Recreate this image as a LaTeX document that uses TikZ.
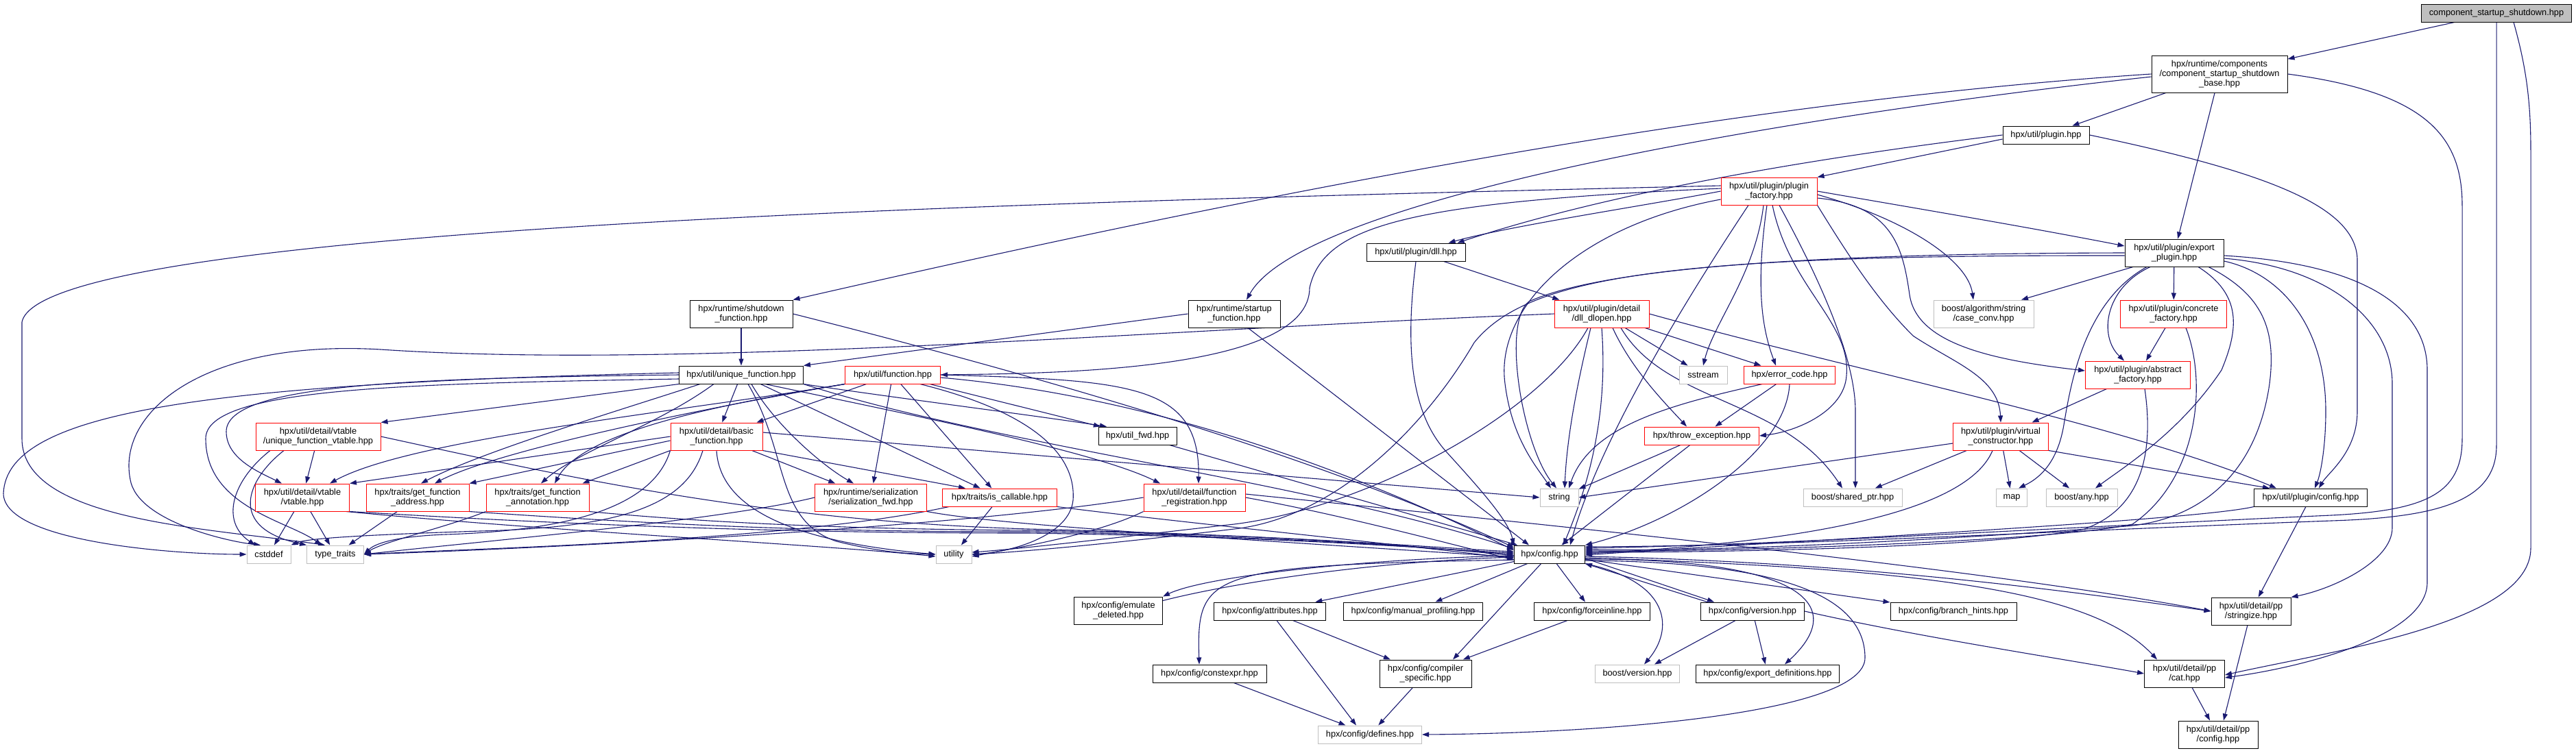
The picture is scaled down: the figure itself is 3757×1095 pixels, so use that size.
\documentclass[tikz,border=0pt]{standalone}
\usepackage{fontspec}
\setmainfont{Liberation Sans}
\usetikzlibrary{arrows.meta}
\pgfdeclarelayer{bg}
\pgfsetlayers{bg,main}
\definecolor{edgec}{HTML}{191970}
\definecolor{grayb}{HTML}{BFBFBF}
\definecolor{redb}{HTML}{FF0000}
\begin{document}
\begin{tikzpicture}[x=1pt,y=-1pt,
 box/.style={rectangle,line width=1pt,fill=white,font=\fontsize{12.8pt}{14pt}\selectfont,align=center,inner xsep=3pt,inner ysep=1pt,text=black},
 nb/.style={box,draw=black},
 nr/.style={box,draw=redb},
 ng/.style={box,draw=grayb},
 nroot/.style={box,draw=black,fill=grayb},
 ha/.style={minimum height=26pt},
 hb/.style={minimum height=40pt},
 hc/.style={minimum height=54pt},
 lk/.style={draw=edgec,line width=1.1pt,-{Triangle[length=10pt,width=7pt]}}
]
\useasboundingbox (0,0) rectangle (3757,1095);
% ---------------- nodes
\node[nroot,ha,minimum width=219pt] (root) at (3641,19) {component\_startup\_shutdown.hpp};
\node[nb,hc,minimum width=198pt] (base) at (3237,108) {hpx/runtime/components\\/component\_startup\_shutdown\\\_base.hpp};
\node[nb,ha,minimum width=126pt] (plugin) at (2984,197) {hpx/util/plugin.hpp};
\node[nr,hb,minimum width=140pt] (pfactory) at (2580,279) {hpx/util/plugin/plugin\\\_factory.hpp};
\node[nb,hb,minimum width=144pt] (export) at (3171,369) {hpx/util/plugin/export\\\_plugin.hpp};
\node[nb,ha,minimum width=144pt] (dll) at (2065,368) {hpx/util/plugin/dll.hpp};
\node[nb,hb,minimum width=150pt] (shutdown) at (1081,458) {hpx/runtime/shutdown\\\_function.hpp};
\node[nb,hb,minimum width=134pt] (startup) at (1800,458) {hpx/runtime/startup\\\_function.hpp};
\node[nr,hb,minimum width=138pt] (dlopen) at (2336,458) {hpx/util/plugin/detail\\/dll\_dlopen.hpp};
\node[ng,hb,minimum width=146pt] (caseconv) at (2893,458) {boost/algorithm/string\\/case\_conv.hpp};
\node[nr,hb,minimum width=155pt] (concrete) at (3170,458) {hpx/util/plugin/concrete\\\_factory.hpp};
\node[nb,ha,minimum width=181pt] (ufunc) at (1081,547) {hpx/util/unique\_function.hpp};
\node[nr,ha,minimum width=139pt] (func) at (1302,547) {hpx/util/function.hpp};
\node[ng,ha,minimum width=70pt] (sstream) at (2484,547) {sstream};
\node[nr,ha,minimum width=133pt] (errcode) at (2610,547) {hpx/error\_code.hpp};
\node[nr,hb,minimum width=153pt] (abstract) at (3118,547) {hpx/util/plugin/abstract\\\_factory.hpp};
\node[nr,hb,minimum width=182pt] (uvtable) at (464,637) {hpx/util/detail/vtable\\/unique\_function\_vtable.hpp};
\node[nr,hb,minimum width=134pt] (basic) at (1045,637) {hpx/util/detail/basic\\\_function.hpp};
\node[nb,ha,minimum width=114pt] (utilfwd) at (1659,636) {hpx/util\_fwd.hpp};
\node[nr,ha,minimum width=167pt] (throw) at (2482,636) {hpx/throw\_exception.hpp};
\node[nr,hb,minimum width=139pt] (virtual) at (2918,637) {hpx/util/plugin/virtual\\\_constructor.hpp};
\node[nr,hb,minimum width=137pt] (vtable) at (441,726) {hpx/util/detail/vtable\\/vtable.hpp};
\node[nr,hb,minimum width=150pt] (getaddr) at (609,726) {hpx/traits/get\_function\\\_address.hpp};
\node[nr,hb,minimum width=150pt] (getannot) at (784,726) {hpx/traits/get\_function\\\_annotation.hpp};
\node[nr,hb,minimum width=163pt] (serfwd) at (1270,726) {hpx/runtime/serialization\\/serialization\_fwd.hpp};
\node[nr,ha,minimum width=167pt] (iscallable) at (1458,726) {hpx/traits/is\_callable.hpp};
\node[nr,hb,minimum width=148pt] (funcreg) at (1742,726) {hpx/util/detail/function\\\_registration.hpp};
\node[ng,ha,minimum width=56pt] (string) at (2274,726) {string};
\node[ng,ha,minimum width=144pt] (sharedptr) at (2702,726) {boost/shared\_ptr.hpp};
\node[ng,ha,minimum width=45pt] (map) at (2934,726) {map};
\node[ng,ha,minimum width=104pt] (any) at (3036,726) {boost/any.hpp};
\node[nb,ha,minimum width=165pt] (pconfig) at (3370,726) {hpx/util/plugin/config.hpp};
\node[ng,ha,minimum width=64pt] (cstddef) at (392,809) {cstddef};
\node[ng,ha,minimum width=83pt] (typetraits) at (489,809) {type\_traits};
\node[ng,ha,minimum width=52pt] (utility) at (1391,809) {utility};
\node[nb,ha,minimum width=103pt] (config) at (2260,809) {hpx/config.hpp};
\node[nb,hb,minimum width=129pt] (emulate) at (1631,891) {hpx/config/emulate\\\_deleted.hpp};
\node[nb,ha,minimum width=163pt] (attributes) at (1852,892) {hpx/config/attributes.hpp};
\node[nb,ha,minimum width=203pt] (manualprof) at (2061,892) {hpx/config/manual\_profiling.hpp};
\node[nb,ha,minimum width=169pt] (forceinline) at (2322,892) {hpx/config/forceinline.hpp};
\node[nb,ha,minimum width=151pt] (version) at (2556,892) {hpx/config/version.hpp};
\node[nb,ha,minimum width=184pt] (branch) at (2849,892) {hpx/config/branch\_hints.hpp};
\node[nb,hb,minimum width=116pt] (stringize) at (3283,892) {hpx/util/detail/pp\\/stringize.hpp};
\node[nb,ha,minimum width=166pt] (constexpr) at (1764,983) {hpx/config/constexpr.hpp};
\node[nb,hb,minimum width=134pt] (compiler) at (2079,983) {hpx/config/compiler\\\_specific.hpp};
\node[ng,ha,minimum width=123pt] (bversion) at (2388,983) {boost/version.hpp};
\node[nb,ha,minimum width=209pt] (exportdef) at (2578,983) {hpx/config/export\_definitions.hpp};
\node[nb,hb,minimum width=117pt] (cat) at (3186,983) {hpx/util/detail/pp\\/cat.hpp};
\node[ng,ha,minimum width=151pt] (defines) at (1998,1072) {hpx/config/defines.hpp};
\node[nb,hb,minimum width=116pt] (ppconfig) at (3235,1072) {hpx/util/detail/pp\\/config.hpp};
% ---------------- edges
\begin{pgfonlayer}{bg}
\fill[white] (0,0) rectangle (3757,1095);
% root
\draw[lk] (root) -- (base);
\draw[lk] (root.south) -- (3641,650) .. controls (3641,730) and (3560,755) .. (3400,760) .. controls (3000,775) and (2600,797) .. ([yshift=11pt]config.east);
\draw[lk] ([xshift=25pt]root.south) .. controls (3685,100) and (3691,150) .. (3691,220) -- (3691,800) .. controls (3691,910) and (3400,950) .. ([yshift=-2pt]cat.east);
% base
\draw[lk] (base) -- (plugin);
\draw[lk] (base) -- (export);
\draw[lk] (base.east) .. controls (3540,135) and (3591,200) .. (3591,300) -- (3591,640) .. controls (3591,720) and (3540,745) .. (3400,752) .. controls (3000,770) and (2600,795) .. ([yshift=9pt]config.east);
\draw[lk] (base.west) .. controls (2500,150) and (1800,290) .. (shutdown.north east);
\draw[lk] ([yshift=-4pt]base.west) .. controls (2600,170) and (1900,290) .. ([xshift=18pt]startup.north);
% plugin
\draw[lk] (plugin.west) .. controls (2650,230) and (2350,280) .. ([xshift=-12pt]dll.north east);
\draw[lk] ([yshift=-6pt]plugin.west) -- (pfactory.north east);
\draw[lk] (plugin.east) .. controls (3300,250) and (3438,300) .. (3438,380) -- (3438,600) .. controls (3438,660) and (3395,690) .. ([xshift=12pt]pconfig.north);
% plugin_factory
\draw[lk] (pfactory.west) .. controls (2400,300) and (2200,330) .. ([xshift=-25pt]dll.north east);
\draw[lk] (pfactory.east) .. controls (2800,305) and (2950,330) .. ([yshift=10pt]export.west);
\draw[lk] ([xshift=-8pt]pfactory.south) .. controls (2560,400) and (2500,470) .. (sstream.north);
\draw[lk] ([xshift=-3pt]pfactory.south) .. controls (2560,420) and (2570,480) .. ([xshift=-20pt]errcode.north);
\draw[lk] ([xshift=5pt]pfactory.south) .. controls (2610,420) and (2700,470) .. (2693,548) .. controls (2690,600) and (2620,630) .. (throw.east);
\draw[lk] ([xshift=15pt]pfactory.south) .. controls (2650,400) and (2706,520) .. (2706,600) -- ([xshift=4pt]sharedptr.north);
\draw[lk] ([yshift=-12pt]pfactory.west) .. controls (2300,330) and (2180,450) .. (2195,560) .. controls (2205,640) and (2240,680) .. ([xshift=-12pt]string.north);
\draw[lk] ([xshift=-30pt]pfactory.south) .. controls (2450,450) and (2330,650) .. ([xshift=30pt]config.north);
\draw[lk] ([yshift=-5pt]pfactory.east) .. controls (2780,320) and (2870,380) .. ([xshift=-15pt]caseconv.north);
\draw[lk] ([yshift=-10pt]pfactory.east) .. controls (2760,300) and (2775,360) .. (2785,430) .. controls (2795,500) and (2900,525) .. ([yshift=6pt]abstract.west);
\draw[lk] (pfactory.south east) .. controls (2700,380) and (2740,440) .. (2790,490) .. controls (2850,530) and (2915,550) .. (virtual.north);
\draw[lk] ([yshift=4pt]pfactory.west) .. controls (2050,295) and (1930,330) .. (1910,420) .. controls (1910,540) and (1550,545) .. (func.east);
\draw[lk] ([yshift=8pt]pfactory.west) .. controls (1500,295) and (60,330) .. (32,470) -- (32,640) .. controls (32,760) and (300,770) .. ([xshift=-15pt]typetraits.north);
% export_plugin
\draw[lk] ([yshift=-4pt]export.east) .. controls (3450,385) and (3540,450) .. (3540,540) -- (3540,850) .. controls (3540,930) and (3350,975) .. ([yshift=-6pt]cat.east);
\draw[lk] ([yshift=-8pt]export.east) .. controls (3400,390) and (3489,470) .. (3489,560) -- (3489,770) .. controls (3489,820) and (3400,860) .. (stringize.north east);
\draw[lk] ([yshift=-12pt]export.east) .. controls (3330,400) and (3392,480) .. (3392,600) .. controls (3392,650) and (3385,690) .. ([xshift=6pt]pconfig.north);
\draw[lk] ([xshift=50pt]export.south) .. controls (3300,430) and (3320,480) .. (3310,560) .. controls (3290,700) and (3200,760) .. (3100,768) .. controls (2800,790) and (2500,805) .. ([yshift=7pt]config.east);
\draw[lk] ([xshift=35pt]export.south) .. controls (3270,430) and (3265,480) .. (3240,540) .. controls (3180,630) and (3100,680) .. ([xshift=20pt]any.north);
\draw[lk] (export) -- (concrete);
\draw[lk] ([xshift=-35pt]export.south) .. controls (3070,420) and (3060,490) .. ([xshift=-20pt]abstract.north);
\draw[lk] ([xshift=-40pt]export.south) .. controls (3040,440) and (3020,560) .. (3010,620) .. controls (3000,680) and (2970,700) .. ([xshift=10pt]map.north);
\draw[lk] ([xshift=-60pt]export.south) -- ([xshift=55pt]caseconv.north);
\draw[lk] (export.west) .. controls (2600,370) and (2330,395) .. (2230,440) .. controls (2190,470) and (2220,650) .. ([xshift=-4pt]string.north);
\draw[lk] ([yshift=-4pt]export.west) .. controls (2450,372) and (2230,400) .. (2150,500) .. controls (2080,620) and (1950,755) .. (1800,772) .. controls (1650,790) and (1500,805) .. (utility.east);
% dll
\draw[lk] (dll) -- (dlopen);
\draw[lk] (dll.south) .. controls (2050,500) and (2055,600) .. (2110,660) .. controls (2160,715) and (2200,760) .. (config.north west);
% dll_dlopen
\draw[lk] (dlopen) -- (sstream);
\draw[lk] (dlopen) -- (errcode);
\draw[lk] ([xshift=16pt]dlopen.south) .. controls (2380,540) and (2430,590) .. ([xshift=-22pt]throw.north);
\draw[lk] ([xshift=-16pt]dlopen.south) .. controls (2300,560) and (2285,640) .. ([xshift=8pt]string.north);
\draw[lk] ([xshift=28pt]dlopen.south) .. controls (2430,590) and (2600,580) .. ([xshift=-15pt]sharedptr.north);
\draw[lk] (dlopen.south) .. controls (2345,600) and (2320,700) .. ([xshift=20pt]config.north);
\draw[lk] ([xshift=-20pt]dlopen.south) .. controls (2250,600) and (2000,740) .. (1800,765) .. controls (1650,782) and (1500,800) .. ([yshift=3pt]utility.east);
\draw[lk] (dlopen.east) .. controls (2700,540) and (3100,620) .. ([xshift=-50pt]pconfig.north);
\draw[lk] (dlopen.west) .. controls (1700,480) and (1000,540) .. (555,510) .. controls (300,495) and (170,600) .. (190,700) .. controls (200,760) and (330,790) .. ([xshift=-12pt]cstddef.north);
% error_code, throw_exception
\draw[lk] (errcode) -- (throw);
\draw[lk] ([xshift=-40pt]errcode.south) .. controls (2440,590) and (2320,620) .. ([xshift=14pt]string.north);
\draw[lk] (errcode.south) .. controls (2605,660) and (2450,760) .. (config.north east);
\draw[lk] (throw) -- (string);
\draw[lk] (throw) -- (config);
% concrete, abstract, virtual, plugin/config
\draw[lk] (concrete) -- (abstract);
\draw[lk] ([xshift=18pt]concrete.south) .. controls (3220,560) and (3205,700) .. (3110,765) .. controls (3000,790) and (2500,806) .. ([yshift=5pt]config.east);
\draw[lk] (abstract) -- (virtual);
\draw[lk] ([xshift=10pt]abstract.south) .. controls (3140,650) and (3130,740) .. (3040,772) .. controls (2900,800) and (2500,806) .. ([yshift=3pt]config.east);
\draw[lk] ([yshift=-10pt]virtual.west) -- (string.east);
\draw[lk] (virtual) -- (sharedptr);
\draw[lk] ([xshift=-12pt]virtual.south) .. controls (2880,720) and (2750,785) .. ([yshift=1pt]config.east);
\draw[lk] (virtual) -- (map);
\draw[lk] (virtual) -- (any);
\draw[lk] (virtual.south east) -- ([xshift=-60pt]pconfig.north);
\draw[lk] (pconfig.south west) .. controls (3200,760) and (2600,790) .. ([yshift=-1pt]config.east);
\draw[lk] (pconfig) -- (stringize);
% shutdown / startup
\draw[lk] (shutdown) -- (ufunc);
\draw[lk] (shutdown.east) .. controls (1600,570) and (1950,680) .. ([yshift=10pt]config.west);
\draw[lk] (startup.west) -- (ufunc.north east);
\draw[lk] ([xshift=20pt]startup.south) -- ([xshift=-30pt]config.north);
% unique_function
\draw[lk] (ufunc) -- (basic);
\draw[lk] ([xshift=15pt]ufunc.south) .. controls (1130,620) and (1200,680) .. ([xshift=-25pt]serfwd.north);
\draw[lk] (ufunc) -- (iscallable);
\draw[lk] ([xshift=35pt]ufunc.south) .. controls (1350,610) and (1600,660) .. ([xshift=-50pt]funcreg.north);
\draw[lk] (ufunc.south east) .. controls (1300,580) and (1500,605) .. ([xshift=-45pt]utilfwd.north);
\draw[lk] (ufunc.south east) .. controls (1450,650) and (1900,700) .. ([yshift=8pt]config.west);
\draw[lk] ([xshift=10pt]ufunc.south) .. controls (1150,660) and (1130,760) .. (1220,790) .. controls (1280,805) and (1320,808) .. (utility.west);
\draw[lk] (ufunc.south west) -- (uvtable.north east);
\draw[lk] (ufunc.west) .. controls (600,552) and (330,560) .. (330,630) .. controls (330,670) and (380,690) .. ([xshift=-30pt]vtable.north);
\draw[lk] ([yshift=3pt]ufunc.west) .. controls (300,560) and (10,600) .. (5,720) .. controls (5,790) and (250,809) .. (cstddef.west);
\draw[lk] ([yshift=-6pt]ufunc.west) .. controls (600,560) and (300,565) .. (300,640) .. controls (300,740) and (420,760) .. ([xshift=-20pt]typetraits.north);
\draw[lk] ([xshift=-60pt]ufunc.south) .. controls (900,600) and (700,660) .. ([xshift=5pt]getaddr.north);
\draw[lk] ([xshift=-40pt]ufunc.south) .. controls (960,620) and (840,660) .. ([xshift=5pt]getannot.north);
% function
\draw[lk] (func) -- (basic);
\draw[lk] (func) -- (serfwd);
\draw[lk] (func) -- (iscallable);
\draw[lk] (func.east) .. controls (1650,555) and (1750,560) .. ([xshift=6pt]funcreg.north);
\draw[lk] (func) -- (utilfwd);
\draw[lk] ([yshift=-4pt]func.east) .. controls (1700,580) and (2000,700) .. ([yshift=6pt]config.west);
\draw[lk] ([xshift=40pt]func.south) .. controls (1500,600) and (1570,660) .. (1565,730) .. controls (1560,780) and (1480,805) .. (utility.east);
\draw[lk] (func.south west) .. controls (1000,600) and (600,640) .. ([xshift=40pt]vtable.north);
\draw[lk] (func.south west) .. controls (1000,600) and (720,660) .. ([xshift=25pt]getaddr.north);
\draw[lk] (func.south west) .. controls (1050,590) and (850,630) .. ([xshift=25pt]getannot.north);
% basic_function
\draw[lk] (basic.west) -- (vtable.north east);
\draw[lk] ([yshift=-6pt]basic.west) -- (getaddr.north east);
\draw[lk] (basic.south west) -- ([xshift=-10pt]getannot.north east);
\draw[lk] (basic) -- (serfwd);
\draw[lk] (basic.south east) -- ([xshift=-50pt]iscallable.north);
\draw[lk] ([yshift=6pt]basic.east) -- (string.west);
\draw[lk] (basic.south) .. controls (1050,740) and (1150,790) .. (utility.west);
\draw[lk] ([xshift=-20pt]basic.south) .. controls (1000,740) and (900,770) .. (700,775) .. controls (550,780) and (450,785) .. (cstddef.north east);
\draw[lk] (basic.south west) .. controls (950,750) and (800,775) .. (650,780) .. controls (570,783) and (545,795) .. (typetraits.east);
% vtables
\draw[lk] (uvtable) -- (vtable);
\draw[lk] ([xshift=-70pt]uvtable.south) .. controls (340,700) and (320,760) .. ([xshift=-20pt]cstddef.north);
\draw[lk] ([xshift=-50pt]uvtable.south) .. controls (360,700) and (330,770) .. (typetraits.north west);
\draw[lk] (uvtable.east) .. controls (800,690) and (1100,760) .. (1500,772) .. controls (1900,782) and (2100,800) .. ([yshift=4pt]config.west);
\draw[lk] (vtable) -- (cstddef);
\draw[lk] (vtable) -- (typetraits);
\draw[lk] (vtable.south east) .. controls (900,770) and (1200,778) .. (1500,778) .. controls (1900,784) and (2100,802) .. ([yshift=2pt]config.west);
\draw[lk] ([xshift=-5pt]vtable.south east) .. controls (800,775) and (1200,795) .. ([yshift=-3pt]utility.west);
% traits
\draw[lk] (getaddr) -- (typetraits);
\draw[lk] (getaddr.south east) .. controls (1000,768) and (1200,776) .. (1500,776) .. controls (1900,783) and (2100,801) .. (config.west);
\draw[lk] (getannot.south west) .. controls (650,770) and (560,790) .. (typetraits.east);
\draw[lk] (getannot.south east) .. controls (1000,760) and (1200,772) .. (1500,774) .. controls (1900,781) and (2100,800) .. ([yshift=-2pt]config.west);
\draw[lk] (serfwd.west) .. controls (1050,760) and (700,790) .. (typetraits.east);
\draw[lk] (serfwd.south east) .. controls (1450,765) and (1700,780) .. ([yshift=-4pt]config.west);
\draw[lk] ([xshift=10pt]iscallable.south west) .. controls (1150,790) and (700,800) .. (typetraits.east);
\draw[lk] (iscallable.south east) .. controls (1700,760) and (2000,790) .. ([yshift=-6pt]config.west);
\draw[lk] (iscallable) -- (utility);
\draw[lk] (funcreg.east) .. controls (1950,750) and (2100,790) .. ([yshift=-8pt]config.west);
\draw[lk] (funcreg.west) .. controls (1400,770) and (800,800) .. (typetraits.east);
\draw[lk] (funcreg.south west) .. controls (1600,780) and (1480,800) .. ([yshift=-3pt]utility.east);
\draw[lk] ([yshift=5pt]funcreg.east) .. controls (2200,760) and (2900,830) .. (stringize.west);
\draw[lk] (utilfwd) -- (config);
% config
\draw[lk] ([yshift=-2pt]config.west) .. controls (2000,815) and (1760,840) .. (emulate.north east);
\draw[lk] ([yshift=-6pt]emulate.north east) .. controls (1800,850) and (2000,820) .. ([yshift=-4pt]config.west);
\draw[lk] (config) -- (attributes);
\draw[lk] (config) -- (manualprof);
\draw[lk] (config) -- (forceinline);
\draw[lk] ([yshift=-6pt]config.east) -- ([xshift=-56pt]version.north);
\draw[lk] ([xshift=-66pt]version.north) -- (config.south east);
\draw[lk] (config) -- (branch);
\draw[lk] ([yshift=-3pt]config.east) .. controls (2700,820) and (3000,860) .. (stringize.west);
\draw[lk] ([yshift=-5pt]config.east) .. controls (2800,830) and (3050,860) .. ([xshift=-40pt]cat.north);
\draw[lk] ([yshift=-8pt]config.west) .. controls (1760,825) and (1745,835) .. ([xshift=-15pt]constexpr.north);
\draw[lk] (config) -- ([xshift=40pt]compiler.north);
\draw[lk] (config.south east) .. controls (2440,850) and (2440,920) .. ([xshift=10pt]bversion.north);
\draw[lk] ([yshift=-7pt]config.east) .. controls (2620,815) and (2700,880) .. ([xshift=25pt]exportdef.north);
\draw[lk] ([yshift=-9pt]config.east) .. controls (2600,820) and (2720,870) .. (2720,960) .. controls (2720,1040) and (2350,1070) .. (defines.east);
% config/*
\draw[lk] (attributes) -- (compiler);
\draw[lk] ([xshift=10pt]attributes.south) -- ([xshift=-20pt]defines.north);
\draw[lk] (forceinline) -- (compiler);
\draw[lk] (version) -- (bversion);
\draw[lk] (version) -- (exportdef);
\draw[lk] (version.east) .. controls (2800,930) and (3000,960) .. (cat.west);
\draw[lk] (constexpr) -- (defines);
\draw[lk] (compiler) -- (defines);
\draw[lk] (stringize) -- ([xshift=8pt]ppconfig.north);
\draw[lk] (cat) -- ([xshift=-12pt]ppconfig.north);
\end{pgfonlayer}
\end{tikzpicture}
\end{document}
